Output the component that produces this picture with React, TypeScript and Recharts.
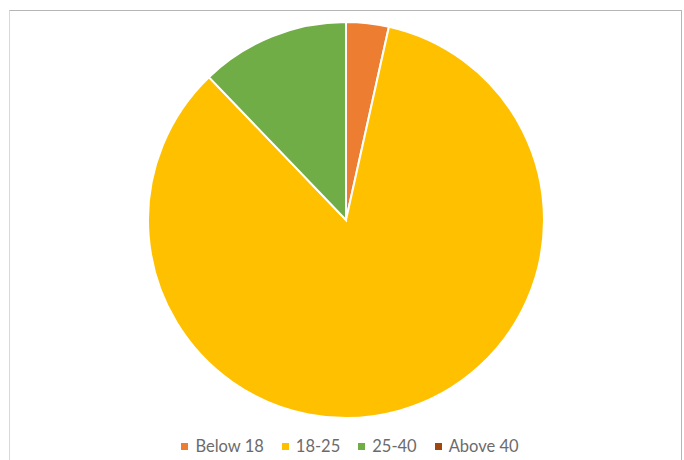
import { PieChart, Pie, Cell, Legend } from 'recharts';

const ageGroups = ['Below 18', '18-25', '25-40', 'Above 40'];
const respondents = [4, 97, 14, 0];
const sliceColors = ['#ED7D31', '#FFC000', '#70AD47', '#9E480E'];

const data = ageGroups.map((name, i) => ({ name, value: respondents[i] }));

/* legend row like the office-style chart, kept in data order */
function LegendRow() {
  return (
    <div style={{ display: 'flex', justifyContent: 'center', gap: 18, fontFamily: 'Lato, sans-serif', fontSize: 16.5, color: '#6b6b6b' }}>
      {ageGroups.map((name, i) => (
        <div key={name} style={{ display: 'flex', alignItems: 'center', gap: 7 }}>
          <span style={{ width: 7, height: 7, background: sliceColors[i], display: 'inline-block' }} />
          <span>{name}</span>
        </div>
      ))}
    </div>
  );
}

export default function App() {
  return (
    <div style={{ position: 'absolute', left: 0, top: 0, width: 684, height: 460, background: '#fff', overflow: 'hidden' }}>
      <div
        style={{
          position: 'absolute', left: 9, top: 10, width: 671, height: 470,
          borderTop: '1px solid #b5b5b5', borderRight: '1px solid #b5b5b5', borderLeft: '1px solid #d9d9d9',
        }}
      />
      <PieChart width={684} height={460} margin={{ top: 0, right: 0, bottom: 0, left: 0 }} style={{ position: 'absolute', left: 0, top: 0 }}>
        <Pie
          data={data}
          dataKey="value"
          nameKey="name"
          cx={346}
          cy={220}
          outerRadius={198}
          startAngle={90}
          endAngle={-270}
          stroke="#fff"
          strokeWidth={2}
          isAnimationActive={false}
        >
          {data.map((d, i) => (
            <Cell key={d.name} fill={sliceColors[i]} />
          ))}
        </Pie>
        <Legend
          content={<LegendRow />}
          wrapperStyle={{ left: 8, top: 436, width: 684 }}
        />
      </PieChart>
    </div>
  );
}
